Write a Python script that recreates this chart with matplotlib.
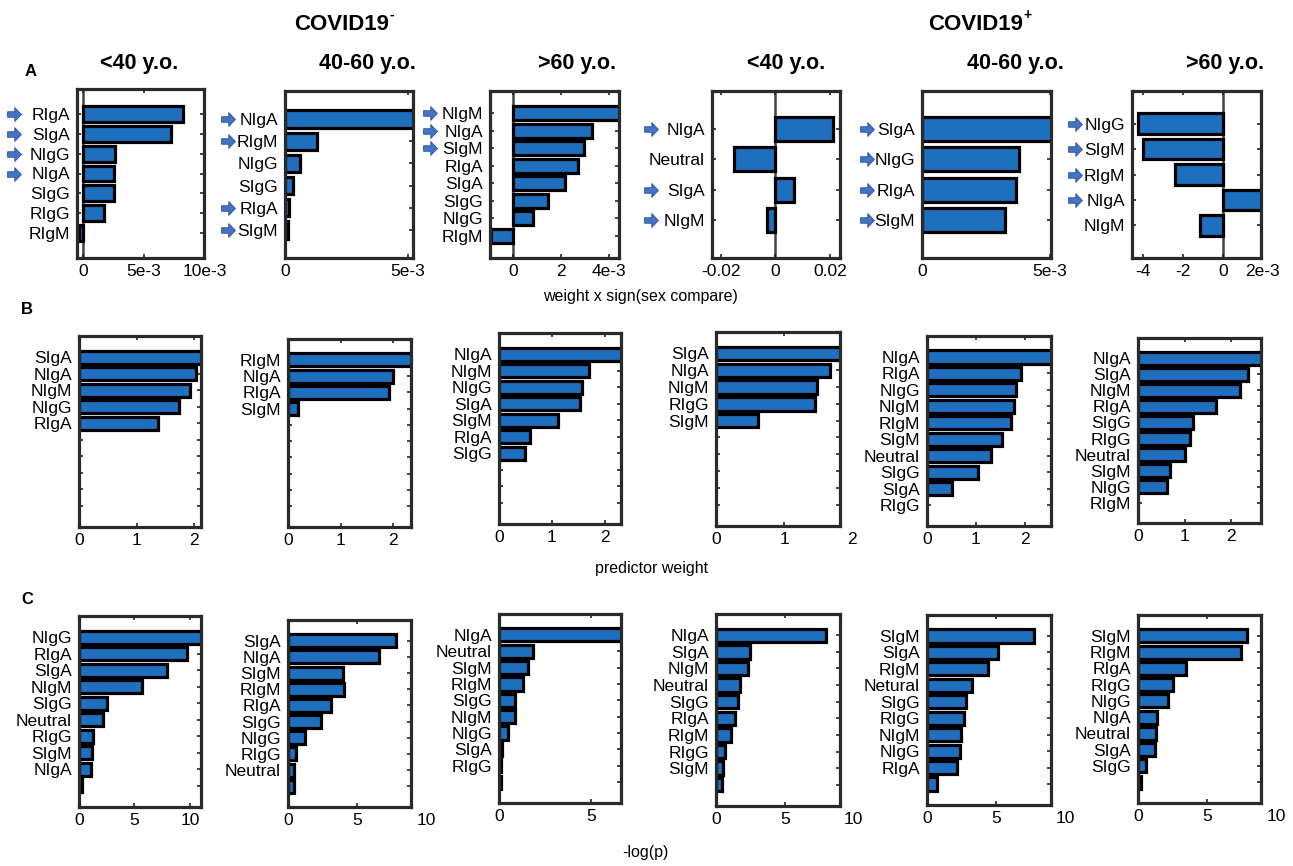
import matplotlib
matplotlib.use("Agg")
import matplotlib.pyplot as plt
from matplotlib.path import Path
from matplotlib import transforms

plt.rcParams['font.family'] = ['Liberation Sans', 'DejaVu Sans']

# ---- row A: weight x sign(sex compare) ----
a_labels = [
    ['RIgA', 'SIgA', 'NIgG', 'NIgA', 'SIgG', 'RIgG', 'RIgM'],
    ['NIgA', 'RIgM', 'NIgG', 'SIgG', 'RIgA', 'SIgM'],
    ['NIgM', 'NIgA', 'SIgM', 'RIgA', 'SIgA', 'SIgG', 'NIgG', 'RIgM'],
    ['NIgA', 'Neutral', 'SIgA', 'NIgM'],
    ['SIgA', 'NIgG', 'RIgA', 'SIgM'],
    ['NIgG', 'SIgM', 'RIgM', 'NIgA', 'NIgM'],
]
a_values = [
    [8.2e-3, 7.2e-3, 2.6e-3, 2.55e-3, 2.55e-3, 1.7e-3, -0.3e-3],
    [5.4e-3, 1.29e-3, 0.59e-3, 0.34e-3, 0.15e-3, 0.12e-3],
    [4.6e-3, 3.28e-3, 2.95e-3, 2.69e-3, 2.17e-3, 1.48e-3, 0.83e-3, -0.92e-3],
    [0.0208, -0.0151, 0.0066, -0.003],
    [5.3e-3, 3.8e-3, 3.68e-3, 3.23e-3],
    [-4.25e-3, -3.98e-3, -2.38e-3, 2.2e-3, -1.15e-3],
]
# 1 = feature marked with an arrow
a_arrows = [
    [1, 1, 1, 1, 0, 0, 0],
    [1, 1, 0, 0, 1, 1],
    [1, 1, 1, 0, 0, 0, 0, 0],
    [1, 0, 1, 1],
    [1, 1, 1, 1],
    [1, 1, 1, 1, 0],
]
a_xlim = [(-0.5e-3, 9.9e-3), (0, 5.2e-3), (-0.95e-3, 4.41e-3),
          (-0.0231, 0.0235), (0, 5.05e-3), (-4.55e-3, 1.92e-3)]
a_ticks = [[0, 5e-3, 10e-3], [0, 5e-3], [0, 2e-3, 4e-3],
           [-0.02, 0, 0.02], [0, 5e-3], [-4e-3, -2e-3, 0, 2e-3]]
a_ticklabels = [['0', '5e-3', '10e-3'], ['0', '5e-3'], ['0', '2', '4e-3'],
                ['-0.02', '0', '0.02'], ['0', '5e-3'], ['-4', '-2', '0', '2e-3']]

# ---- row B: predictor weight ----
b_labels = [
    ['SIgA', 'NIgA', 'NIgM', 'NIgG', 'RIgA'],
    ['RIgM', 'NIgA', 'RIgA', 'SIgM'],
    ['NIgA', 'NIgM', 'NIgG', 'SIgA', 'SIgM', 'RIgA', 'SIgG'],
    ['SIgA', 'NIgA', 'NIgM', 'RIgG', 'SIgM'],
    ['NIgA', 'RIgA', 'NIgG', 'NIgM', 'RIgM', 'SIgM', 'Neutral', 'SIgG', 'SIgA', 'RIgG'],
    ['NIgA', 'SIgA', 'NIgM', 'RIgA', 'SIgG', 'RIgG', 'Neutral', 'SIgM', 'NIgG', 'RIgM'],
]
b_values = [
    [2.2, 2.04, 1.93, 1.73, 1.37],
    [2.4, 2.0, 1.92, 0.19],
    [2.4, 1.71, 1.58, 1.54, 1.12, 0.58, 0.5],
    [1.85, 1.68, 1.48, 1.46, 0.61],
    [2.6, 1.92, 1.83, 1.79, 1.73, 1.54, 1.32, 1.05, 0.52],
    [2.7, 2.37, 2.19, 1.68, 1.18, 1.12, 1.01, 0.68, 0.63],
]
b_xlim = [(0, 2.12), (0, 2.34), (0, 2.31), (0, 1.82), (0, 2.54), (0, 2.64)]
b_ticks = [0, 1, 2]

# ---- row C: -log(p) ----
c_labels = [
    ['NIgG', 'RIgA', 'SIgA', 'NIgM', 'SIgG', 'Neutral', 'RIgG', 'SIgM', 'NIgA', ''],
    ['SIgA', 'NIgA', 'SIgM', 'RIgM', 'RIgA', 'SIgG', 'NIgG', 'RIgG', 'Neutral', ''],
    ['NIgA', 'Neutral', 'SIgM', 'RIgM', 'SIgG', 'NIgM', 'NIgG', 'SIgA', 'RIgG', ''],
    ['NIgA', 'SIgA', 'NIgM', 'Neutral', 'SIgG', 'RIgA', 'RIgM', 'RIgG', 'SIgM', ''],
    ['SIgM', 'SIgA', 'RIgM', 'Netural', 'SIgG', 'RIgG', 'NIgM', 'NIgG', 'RIgA', ''],
    ['SIgM', 'RIgM', 'RIgA', 'RIgG', 'NIgG', 'NIgA', 'Neutral', 'SIgA', 'SIgG', ''],
]
c_values = [
    [11.3, 9.7, 7.9, 5.7, 2.5, 2.2, 1.25, 1.2, 1.1, 0.25],
    [7.8, 6.6, 4.0, 4.05, 3.1, 2.4, 1.23, 0.55, 0.46, 0.4],
    [6.9, 1.86, 1.58, 1.3, 0.88, 0.88, 0.51, 0.14, 0.1, 0.1],
    [7.95, 2.47, 2.35, 1.72, 1.63, 1.39, 1.08, 0.63, 0.48, 0.4],
    [7.76, 5.12, 4.44, 3.26, 2.8, 2.7, 2.48, 2.42, 2.17, 0.75],
    [7.88, 7.48, 3.48, 2.55, 2.2, 1.38, 1.32, 1.23, 0.55, 0.2],
]
c_xlim = [(0, 11.0), (0, 8.9), (0, 6.63), (0, 9.0), (0, 8.97), (0, 8.92)]
c_ticks = [[0, 5, 10], [0, 5, 10], [0, 5], [0, 5, 10], [0, 5, 10], [0, 5, 10]]

groups = ['COVID19', 'COVID19']
group_sup = ['-', '+']
ages = ['<40 y.o.', '40-60 y.o.', '>60 y.o.']

# ---- layout (pixel boxes: left, top, right, bottom) ----
W, H = 1293, 866
a_boxes = [(77, 89, 204, 258), (285, 91, 413, 258), (490, 91, 619, 258),
           (712, 91, 840, 258), (922, 91, 1051, 258), (1132, 91, 1261, 258)]
b_boxes = [(79, 336, 201, 527), (288, 339, 411, 527), (499, 333, 621, 524),
           (716, 332, 840, 526), (927, 336, 1051, 526), (1138, 338, 1261, 523)]
c_boxes = [(79, 616, 201, 807), (288, 620, 411, 807), (499, 614, 621, 803),
           (716, 614, 840, 806), (927, 615, 1051, 805), (1138, 615, 1261, 803)]
arrow_x = [14, 228, 430, 651, 867, 1075]

BAR_BLUE = '#1f6fbf'
ARROW_BLUE = '#4472c4'
TICK_FS = 12.5

# block arrow marker
ARROW = Path([(-0.5, -0.2), (0.02, -0.2), (0.02, -0.5), (0.5, 0.0),
              (0.02, 0.5), (0.02, 0.2), (-0.5, 0.2), (-0.5, -0.2)],
             [Path.MOVETO] + [Path.LINETO] * 6 + [Path.CLOSEPOLY])

fig = plt.figure(figsize=(W / 100, H / 100), dpi=100)


def add_px_axes(box):
    x0, y0, x1, y1 = box
    return fig.add_axes([x0 / W, 1 - y1 / H, (x1 - x0) / W, (y1 - y0) / H])


def draw_panel(box, labels, values, xlim, ticks, ticklabels, n_slots,
               zero_line=False, arrows=None, ax_x=None):
    ax = add_px_axes(box)
    pos = list(range(1, len(values) + 1))
    ax.barh(pos, values, height=0.8, color=BAR_BLUE, edgecolor='black',
            linewidth=2.3, zorder=2)
    if zero_line:
        ax.axvline(0, color='#444444', lw=1.8, zorder=1)
    ax.set_xlim(*xlim)
    ax.set_ylim(n_slots + 1.28, 1 - 1.28)
    ax.set_yticks(range(1, n_slots + 1))
    ax.set_yticklabels(labels + [''] * (n_slots - len(labels)), fontsize=TICK_FS)
    ax.set_xticks([t for t in ticks if xlim[0] <= t <= xlim[1]])
    ax.set_xticklabels([])
    # tick labels as annotations so the ones just past the edge still show
    for t, lab in zip(ticks, ticklabels):
        ax.annotate(lab, xy=(t, 0), xycoords=('data', 'axes fraction'),
                    xytext=(0, -4), textcoords='offset points',
                    ha='center', va='top', fontsize=TICK_FS,
                    annotation_clip=False)
    ax.tick_params(direction='in', length=3, width=1.2, top=True, right=True,
                   pad=5, color='#222222')
    for s in ax.spines.values():
        s.set_linewidth(2.3)
        s.set_color('#2a2a2a')
    if arrows:
        tr = transforms.blended_transform_factory(fig.transFigure, ax.transData)
        ys = [p for p, a in zip(pos, arrows) if a]
        ax.plot([ax_x / W] * len(ys), ys, transform=tr, ls='none', marker=ARROW,
                markersize=10, color=ARROW_BLUE, mec='#2f5597', mew=0.6,
                clip_on=False)
    return ax


for i in range(6):
    draw_panel(a_boxes[i], a_labels[i], a_values[i], a_xlim[i], a_ticks[i],
               a_ticklabels[i], len(a_labels[i]), zero_line=True,
               arrows=a_arrows[i], ax_x=arrow_x[i])
    draw_panel(b_boxes[i], b_labels[i], b_values[i], b_xlim[i], b_ticks,
               [str(t) for t in b_ticks], 10)
    draw_panel(c_boxes[i], c_labels[i], c_values[i], c_xlim[i], c_ticks[i],
               [str(t) for t in c_ticks[i]], 10)


def ftext(x, y, s, **kw):
    return fig.text(x / W, 1 - y / H, s, ha='center', va='center', **kw)


for x, g, sup in zip([342, 976], groups, group_sup):
    t = ftext(x, 24, g, fontsize=16, fontweight='bold')
    # small superscript sign right after the group name
    fig.add_artist(matplotlib.text.Annotation(
        sup, xy=(1.0, 0.95), xycoords=t, fontsize=10, fontweight='bold',
        ha='left', va='center'))

for x, a in zip([139, 367, 577, 786, 1015, 1225], ages * 2):
    ftext(x, 63, a, fontsize=15.5, fontweight='bold')

ftext(31, 72, 'A', fontsize=12, fontweight='bold')
ftext(27, 309, 'B', fontsize=12, fontweight='bold')
ftext(27, 600, 'C', fontsize=12, fontweight='bold')

ftext(640, 297, 'weight x sign(sex compare)', fontsize=11.5)
ftext(652, 568, 'predictor weight', fontsize=11.5)
ftext(645, 852, '-log(p)', fontsize=11.5)

fig.savefig('out.png', dpi=100, facecolor='white')
